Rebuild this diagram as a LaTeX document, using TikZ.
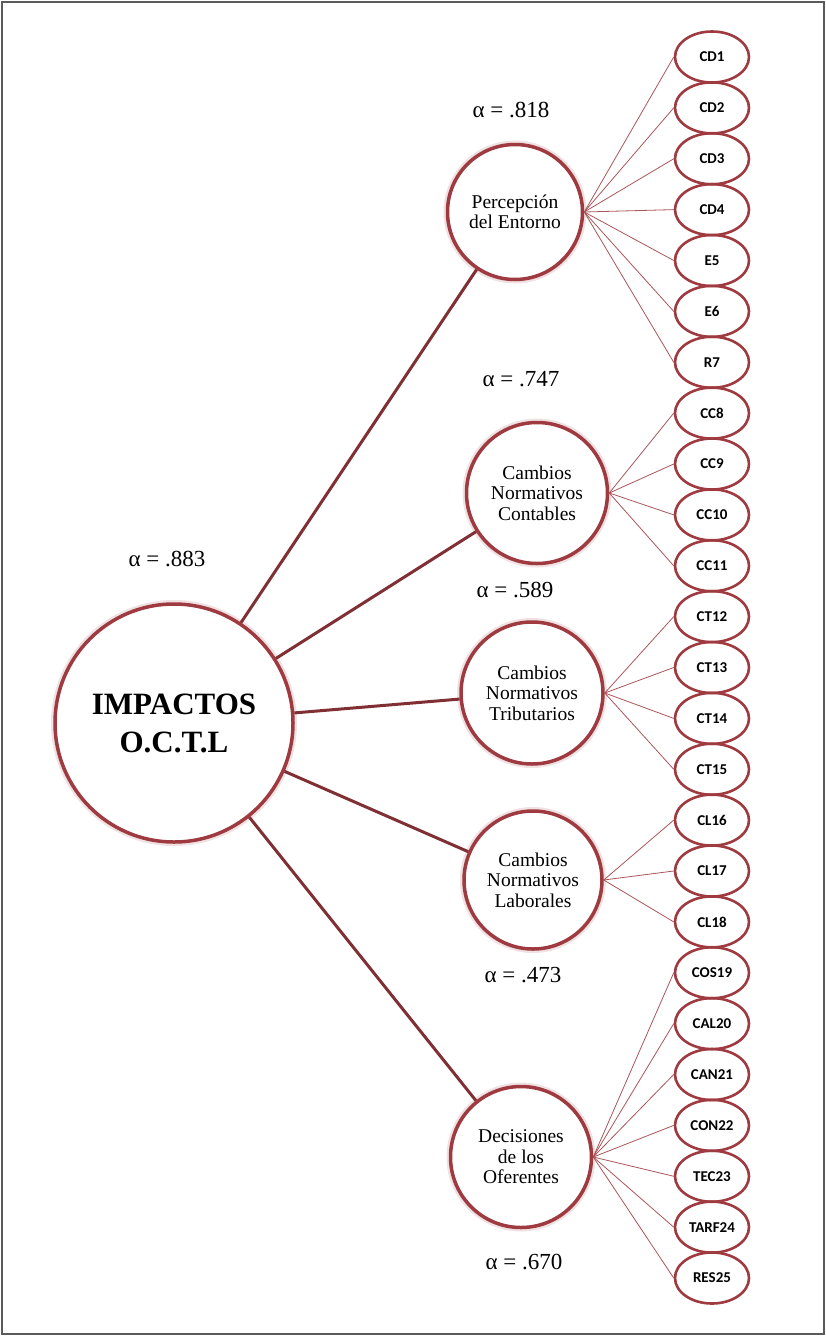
\documentclass[tikz,border=0pt]{standalone}
\usepackage{fontspec}
\setmainfont{Liberation Serif}
\newfontfamily\carlfont{Carlito}
\usetikzlibrary{shapes.geometric}
\definecolor{ring}{RGB}{158,58,64}
\definecolor{mainline}{RGB}{128,48,52}
\definecolor{subline}{RGB}{170,85,90}
\definecolor{framegray}{RGB}{90,90,90}
\begin{document}
\begin{tikzpicture}[x=1pt,y=-1pt,
 bigcirc/.style={circle, draw=ring, line width=3.5pt, fill=white, inner sep=0pt, align=center,
   font=\fontsize{19.5}{20.5}\selectfont, preaction={draw=ring!15, line width=8pt}},
 item/.style={ellipse, draw=ring, line width=2.6pt, inner sep=0pt, minimum width=74pt, minimum height=51pt,
   font=\carlfont\bfseries\fontsize{15}{16}\selectfont},
 trunk/.style={draw=mainline, line width=3pt},
 twig/.style={draw=subline, line width=0.8pt},
 alphalabel/.style={font=\fontsize{23}{26}\selectfont, inner sep=0pt}
]
\useasboundingbox (0,0) rectangle (825,1336);
\draw[framegray, line width=1.2pt] (2,2) rectangle (824,1334);

% big circles
\node[bigcirc, minimum size=238pt, font=\bfseries\fontsize{31}{38}\selectfont] (imp) at (174,723) {IMPACTOS\\O.C.T.L};
\node[bigcirc, minimum size=135pt] (per) at (515,212) {Percepción\\del Entorno};
\node[bigcirc, minimum size=141pt] (con) at (537,493) {Cambios\\Normativos\\Contables};
\node[bigcirc, minimum size=142pt] (tri) at (532,693) {Cambios\\Normativos\\Tributarios};
\node[bigcirc, minimum size=138pt] (lab) at (533,880) {Cambios\\Normativos\\Laborales};
\node[bigcirc, minimum size=141pt] (dec) at (521,1157) {Decisiones\\de los\\Oferentes};

% trunks
\foreach \t in {per,con,tri,lab,dec} \draw[trunk] (imp) -- (\t);

% items
\foreach \lab [count=\i] in {CD1,CD2,CD3,CD4,E5,E6,R7,CC8,CC9,CC10,CC11,CT12,CT13,CT14,CT15,CL16,CL17,CL18,COS19,CAL20,CAN21,CON22,TEC23,TARF24,RES25}
  \node[item] (e\i) at (712,{57+50.875*(\i-1)}) {\lab};

\foreach \i in {1,...,7} \draw[twig] (per.east) -- (e\i.west);
\foreach \i in {8,...,11} \draw[twig] (con.east) -- (e\i.west);
\foreach \i in {12,...,15} \draw[twig] (tri.east) -- (e\i.west);
\foreach \i in {16,...,18} \draw[twig] (lab.east) -- (e\i.west);
\foreach \i in {19,...,25} \draw[twig] (dec.east) -- (e\i.west);

% alpha labels
\node[alphalabel] (a1) at (511,110) {α = .818};
\node[alphalabel] (a2) at (521,379) {α = .747};
\node[alphalabel] (a3) at (167,559) {α = .883};
\node[alphalabel] (a4) at (515,590) {α = .589};
\node[alphalabel] (a5) at (523,975) {α = .473};
\node[alphalabel] (a6) at (524,1262) {α = .670};
\end{tikzpicture}
\end{document}
